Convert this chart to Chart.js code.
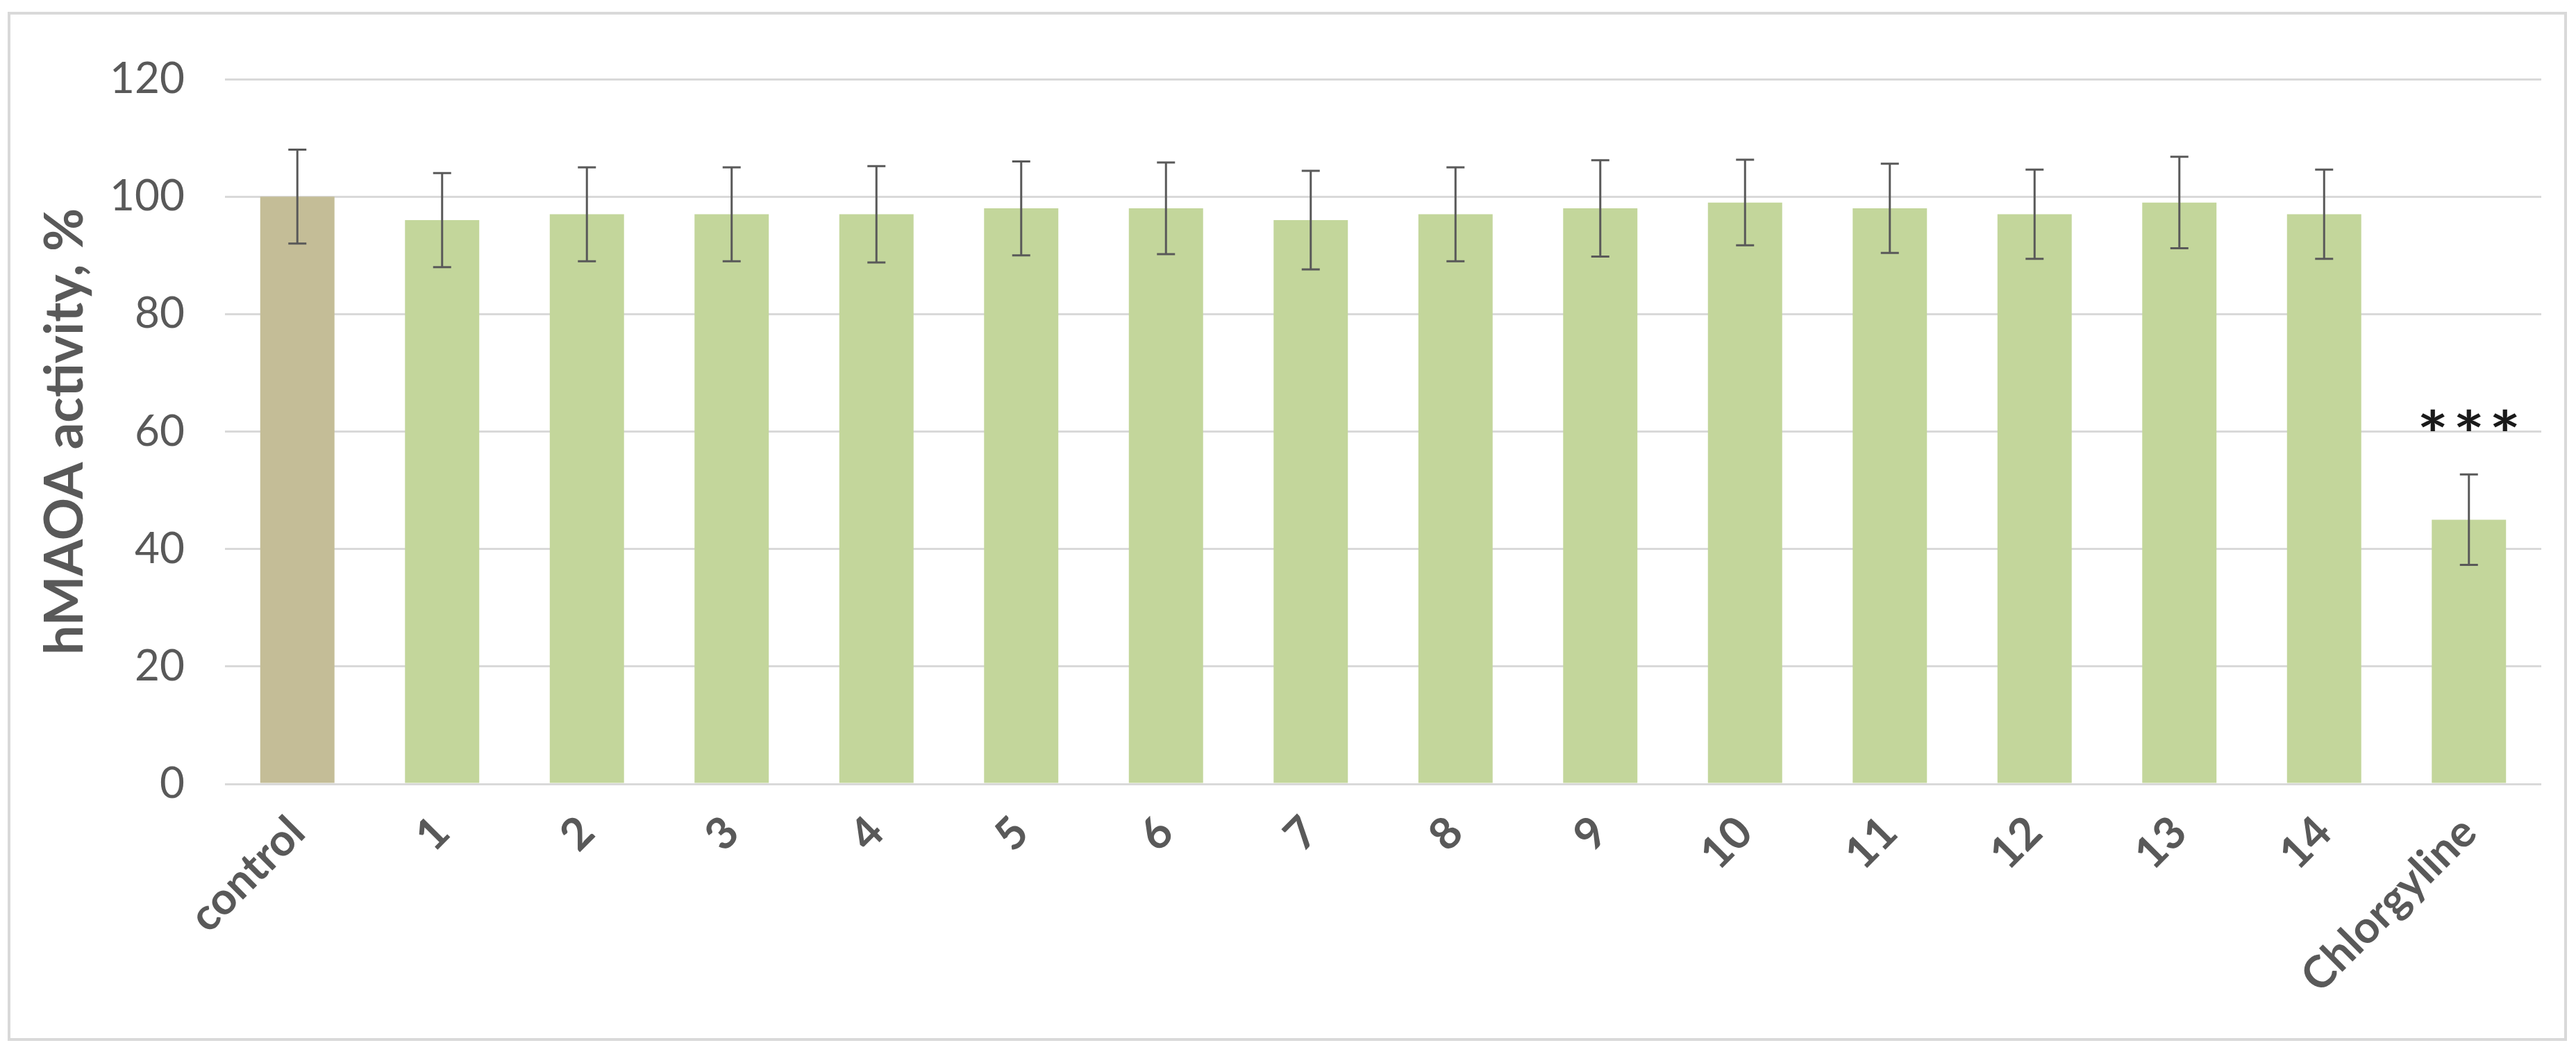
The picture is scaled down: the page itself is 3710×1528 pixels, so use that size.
<!DOCTYPE html>
<html lang="en">
<head>
<meta charset="UTF-8">
<title>hMAOA activity</title>
<script src="https://cdn.jsdelivr.net/npm/chart.js"></script>
<style>
  body { margin: 0; background: #fff; }
  .chart-box { position: relative; width: 3710px; height: 1528px; }
</style>
</head>
<body>
<div class="chart-box"><canvas id="maoChart"></canvas></div>
<script>
// data
const categories = ['control', '1', '2', '3', '4', '5', '6', '7', '8', '9', '10', '11', '12', '13', '14', 'Chlorgyline'];
const activity = [100, 96, 97, 97, 97, 98, 98, 96, 97, 98, 99, 98, 97, 99, 97, 45];
const errors = [8, 8, 8, 8, 8.2, 8, 7.8, 8.4, 8, 8.2, 7.3, 7.6, 7.6, 7.8, 7.6, 7.7];
const significance = ['', '', '', '', '', '', '', '', '', '', '', '', '', '', '', '***'];
const barColors = ['#c4bd97', '#c3d69b', '#c3d69b', '#c3d69b', '#c3d69b', '#c3d69b', '#c3d69b', '#c3d69b',
    '#c3d69b', '#c3d69b', '#c3d69b', '#c3d69b', '#c3d69b', '#c3d69b', '#c3d69b', '#c3d69b'];
const yMin = 0, yMax = 120, yStep = 20;
const yTitle = 'hMAOA activity, %';

const grey = '#595959';

// outer frame around the whole chart
const framePlugin = {
    id: 'frame',
    beforeDraw(chart) {
        const ctx = chart.ctx;
        ctx.save();
        ctx.fillStyle = '#fff';
        ctx.fillRect(0, 0, chart.width, chart.height);
        ctx.strokeStyle = '#d9d9d9';
        ctx.lineWidth = 4;
        ctx.strokeRect(13, 19, chart.width - 28, chart.height - 50);
        ctx.restore();
    }
};

// error bars and significance stars
const errorBarPlugin = {
    id: 'errorBars',
    afterDatasetsDraw(chart) {
        const ctx = chart.ctx;
        const meta = chart.getDatasetMeta(0);
        const y = chart.scales.y;
        ctx.save();
        ctx.strokeStyle = grey;
        ctx.lineWidth = 3;
        meta.data.forEach((bar, i) => {
            const top = y.getPixelForValue(activity[i] + errors[i]);
            const bot = y.getPixelForValue(activity[i] - errors[i]);
            ctx.beginPath();
            ctx.moveTo(bar.x, top); ctx.lineTo(bar.x, bot);
            ctx.moveTo(bar.x - 13, top); ctx.lineTo(bar.x + 13, top);
            ctx.moveTo(bar.x - 13, bot); ctx.lineTo(bar.x + 13, bot);
            ctx.stroke();

            if (significance[i]) {
                ctx.fillStyle = '#1a1a1a';
                ctx.font = 'bold 92px Lato';
                ctx.textAlign = 'center';
                ctx.textBaseline = 'alphabetic';
                const m = ctx.measureText('*');
                const target = top - 62;
                const base = target - m.actualBoundingBoxDescent;
                const n = significance[i].length;
                for (let k = 0; k < n; k++) {
                    const sx = bar.x + (k - (n - 1) / 2) * 52;
                    ctx.save();
                    ctx.translate(sx, base);
                    ctx.scale(1.15, 1);
                    ctx.fillText('*', 0, 0);
                    ctx.restore();
                }
            }
        });
        ctx.restore();
    }
};

new Chart(document.getElementById('maoChart').getContext('2d'), {
    type: 'bar',
    data: {
        labels: categories,
        datasets: [{
            data: activity,
            backgroundColor: barColors,
            borderWidth: 0,
            barPercentage: 0.513,
            categoryPercentage: 1
        }]
    },
    options: {
        responsive: true,
        maintainAspectRatio: false,
        animation: false,
        layout: { padding: { top: 114, right: 50, bottom: 0, left: 0 } },
        plugins: {
            legend: { display: false },
            tooltip: { enabled: false }
        },
        scales: {
            x: {
                grid: { display: false },
                border: { display: false },
                ticks: {
                    color: grey,
                    font: { family: 'Lato', size: 64, weight: 'bold' },
                    minRotation: 45,
                    maxRotation: 45,
                    autoSkip: false,
                    padding: 24
                },
                afterFit(scale) { scale.height = 399; }
            },
            y: {
                min: yMin,
                max: yMax,
                border: { display: false },
                grid: { color: '#d9d9d9', lineWidth: 3, drawTicks: false },
                ticks: {
                    stepSize: yStep,
                    color: grey,
                    font: { family: 'Lato', size: 62 },
                    padding: 58
                },
                title: {
                    display: true,
                    text: yTitle,
                    color: grey,
                    font: { family: 'Lato', size: 76, weight: 'bold' },
                    padding: { top: 49, bottom: 0 }
                },
                afterFit(scale) { scale.width = 324; }
            }
        }
    },
    plugins: [framePlugin, errorBarPlugin]
});
</script>
</body>
</html>
